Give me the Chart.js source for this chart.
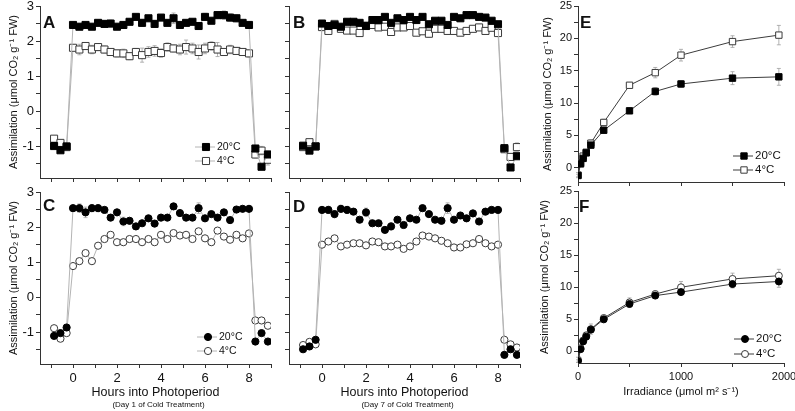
<!DOCTYPE html>
<html lang="en">
<head>
<meta charset="UTF-8">
<title>Assimilation panels</title>
<script src="https://cdn.jsdelivr.net/npm/chart.js"></script>
<style>
  body { margin: 0; background: #fff; }
  #wrap { position: relative; width: 795px; height: 411px; overflow: hidden; }
  canvas { position: absolute; }
</style>
</head>
<body>
<div id="wrap">
  <canvas id="cA"></canvas>
  <canvas id="cB"></canvas>
  <canvas id="cC"></canvas>
  <canvas id="cD"></canvas>
  <canvas id="cE"></canvas>
  <canvas id="cF"></canvas>
</div>
<script>
// hours into photoperiod (3 dark points, 29 light points, 3 dark points)
const hours = [-0.86, -0.57, -0.29, 0, 0.29, 0.57, 0.86, 1.14, 1.43, 1.71, 2, 2.29, 2.57, 2.86, 3.14, 3.43, 3.71, 4, 4.29, 4.57, 4.86, 5.14, 5.43, 5.71, 6, 6.29, 6.57, 6.86, 7.14, 7.43, 7.71, 8, 8.29, 8.57, 8.86];

// panel A - day 1, squares
const a20 = [-0.99, -1.11, -1.0, 2.46, 2.41, 2.46, 2.41, 2.52, 2.49, 2.5, 2.41, 2.46, 2.55, 2.69, 2.52, 2.65, 2.49, 2.67, 2.52, 2.65, 2.46, 2.52, 2.55, 2.43, 2.69, 2.58, 2.74, 2.74, 2.67, 2.65, 2.52, 2.46, -1.06, -1.58, -1.23];
const a4 = [-0.78, -0.9, -1.02, 1.81, 1.76, 1.86, 1.76, 1.83, 1.76, 1.69, 1.65, 1.65, 1.57, 1.69, 1.6, 1.69, 1.72, 1.66, 1.83, 1.79, 1.76, 1.83, 1.79, 1.69, 1.79, 1.86, 1.76, 1.69, 1.76, 1.72, 1.69, 1.65, -1.23, -1.12, -1.38];
const a20err = [0.05, 0.05, 0.05, 0.05, 0.08, 0.05, 0.06, 0.08, 0.1, 0.1, 0.06, 0.08, 0.08, 0.06, 0.1, 0.06, 0.1, 0.06, 0.08, 0.15, 0.08, 0.08, 0.06, 0.08, 0.1, 0.06, 0.1, 0.12, 0.1, 0.1, 0.06, 0.08, 0.08, 0.06, 0.1];
const a4err = [0.06, 0.05, 0.05, 0.08, 0.15, 0.1, 0.12, 0.1, 0.1, 0.08, 0.1, 0.12, 0.1, 0.1, 0.2, 0.15, 0.15, 0.12, 0.12, 0.1, 0.15, 0.2, 0.15, 0.2, 0.15, 0.12, 0.2, 0.1, 0.12, 0.1, 0.1, 0.1, 0.1, 0.12, 0.15];

// panel B - day 7, squares
const b20 = [-0.98, -1.12, -1.0, 2.5, 2.43, 2.46, 2.41, 2.55, 2.55, 2.52, 2.43, 2.6, 2.6, 2.69, 2.52, 2.65, 2.6, 2.69, 2.6, 2.69, 2.48, 2.58, 2.58, 2.46, 2.69, 2.65, 2.74, 2.74, 2.69, 2.67, 2.58, 2.48, -1.05, -1.6, -1.28];
const b4 = [-1.02, -0.88, -1.0, 2.4, 2.29, 2.49, 2.35, 2.3, 2.3, 2.23, 2.44, 2.46, 2.39, 2.41, 2.26, 2.39, 2.39, 2.43, 2.24, 2.28, 2.21, 2.35, 2.35, 2.29, 2.29, 2.24, 2.29, 2.35, 2.39, 2.29, 2.38, 2.23, -1.08, -1.3, -1.02];
const b20err = [0.05, 0.05, 0.05, 0.05, 0.05, 0.05, 0.06, 0.08, 0.06, 0.05, 0.06, 0.06, 0.08, 0.06, 0.06, 0.06, 0.1, 0.06, 0.06, 0.06, 0.06, 0.06, 0.06, 0.06, 0.06, 0.06, 0.1, 0.08, 0.06, 0.06, 0.06, 0.06, 0.05, 0.05, 0.05];
const b4err = [0.05, 0.05, 0.05, 0.06, 0.06, 0.06, 0.06, 0.08, 0.06, 0.06, 0.06, 0.06, 0.08, 0.06, 0.1, 0.06, 0.06, 0.06, 0.08, 0.08, 0.1, 0.06, 0.06, 0.06, 0.06, 0.06, 0.06, 0.06, 0.06, 0.06, 0.06, 0.06, 0.08, 0.1, 0.12];

// panel C - day 1, circles
const c20 = [-1.1, -1.02, -0.86, 2.54, 2.54, 2.42, 2.54, 2.54, 2.49, 2.27, 2.42, 2.16, 2.18, 2.02, 2.11, 2.25, 2.1, 2.27, 2.27, 2.59, 2.4, 2.27, 2.27, 2.54, 2.25, 2.37, 2.27, 2.42, 2.2, 2.5, 2.52, 2.52, -1.26, -1.02, -1.26];
const c4 = [-0.88, -1.18, -1.02, 0.89, 1.03, 1.26, 1.03, 1.47, 1.66, 1.78, 1.57, 1.57, 1.66, 1.66, 1.57, 1.66, 1.57, 1.78, 1.66, 1.83, 1.76, 1.78, 1.66, 1.88, 1.68, 1.57, 1.9, 1.73, 1.64, 1.78, 1.68, 1.82, -0.66, -0.66, -0.81];
const c20err = [0.05, 0.05, 0.05, 0.08, 0.12, 0.15, 0.1, 0.1, 0.05, 0.08, 0.08, 0.12, 0.06, 0.06, 0.06, 0.06, 0.06, 0.06, 0.06, 0.06, 0.06, 0.06, 0.06, 0.15, 0.06, 0.06, 0.06, 0.06, 0.06, 0.06, 0.06, 0.06, 0.05, 0.05, 0.05];
const c4err = [0.05, 0.05, 0.05, 0.05, 0.05, 0.06, 0.05, 0.05, 0.05, 0.05, 0.05, 0.05, 0.05, 0.05, 0.05, 0.05, 0.05, 0.05, 0.05, 0.05, 0.05, 0.05, 0.05, 0.05, 0.05, 0.05, 0.05, 0.05, 0.05, 0.05, 0.05, 0.05, 0.08, 0.08, 0.08];

// panel D - day 7, circles
const d20 = [-1.48, -1.4, -1.21, 2.49, 2.49, 2.37, 2.52, 2.49, 2.44, 2.21, 2.42, 2.11, 2.11, 1.92, 2.02, 2.21, 2.06, 2.25, 2.21, 2.54, 2.37, 2.21, 2.18, 2.54, 2.21, 2.33, 2.25, 2.39, 2.16, 2.44, 2.49, 2.49, -1.64, -1.48, -1.64];
const d4 = [-1.36, -1.27, -1.34, 1.5, 1.59, 1.68, 1.45, 1.5, 1.54, 1.54, 1.48, 1.59, 1.57, 1.45, 1.45, 1.5, 1.38, 1.45, 1.59, 1.76, 1.73, 1.68, 1.61, 1.54, 1.42, 1.42, 1.51, 1.54, 1.66, 1.54, 1.45, 1.5, -1.21, -1.34, -1.43];
const d20err = [0.05, 0.05, 0.05, 0.06, 0.1, 0.1, 0.1, 0.1, 0.05, 0.06, 0.12, 0.06, 0.06, 0.06, 0.1, 0.06, 0.06, 0.06, 0.06, 0.06, 0.06, 0.06, 0.06, 0.15, 0.06, 0.06, 0.06, 0.06, 0.06, 0.06, 0.06, 0.06, 0.05, 0.05, 0.05];
const d4err = [0.05, 0.05, 0.05, 0.05, 0.05, 0.05, 0.05, 0.05, 0.05, 0.05, 0.05, 0.05, 0.05, 0.05, 0.08, 0.06, 0.05, 0.05, 0.05, 0.05, 0.05, 0.05, 0.05, 0.05, 0.05, 0.05, 0.05, 0.05, 0.05, 0.05, 0.05, 0.05, 0.06, 0.06, 0.06];

// panels E, F - light response
const irradiance = [0, 25, 50, 80, 125, 250, 500, 750, 1000, 1500, 1950];
const e20 = [-1.2, 0.6, 1.45, 2.3, 3.5, 5.8, 8.8, 11.8, 12.95, 13.85, 14.05];
const e4 = [-1.13, 0.77, 1.8, 2.4, 3.8, 7.0, 12.75, 14.7, 17.4, 19.5, 20.5];
const e20err = [0.2, 0.3, 0.3, 0.3, 0.4, 0.4, 0.4, 0.6, 0.5, 1.0, 1.3];
const e4err = [0.4, 0.3, 0.3, 0.4, 0.5, 0.5, 0.4, 0.8, 0.9, 0.9, 1.5];
const f20 = [-1.5, 0.36, 1.56, 2.3, 3.4, 5.0, 7.4, 8.7, 9.25, 10.5, 10.9];
const f4 = [-1.3, 0.52, 1.71, 2.5, 3.48, 5.2, 7.64, 8.94, 10.0, 11.3, 11.8];
const f20err = [0.2, 0.2, 0.3, 0.3, 0.4, 0.4, 0.5, 0.4, 0.4, 0.6, 0.9];
const f4err = [0.4, 0.3, 0.4, 0.5, 0.8, 0.5, 0.7, 0.5, 0.9, 0.9, 1.0];

// ticks
const hourTicks = [-1, 0, 1, 2, 3, 4, 5, 6, 7, 8, 9];
const hourLabels = [0, 2, 4, 6, 8];
const assimTicks = [-1.5, -1, -0.5, 0, 0.5, 1, 1.5, 2, 2.5, 3];
const assimLabels = [-1, 0, 1, 2, 3];
const irrTicks = [0, 500, 1000, 1500, 2000];
const irrLabels = [0, 1000, 2000];
const lightTicks = [0, 2.5, 5, 7.5, 10, 12.5, 15, 17.5, 20, 22.5, 25];
const lightLabels = [0, 5, 10, 15, 20, 25];

const seriesNames = ['20°C', '4°C'];
const yTitle = 'Assimilation (μmol CO₂ g⁻¹ FW)';
const FONT = '"Liberation Sans", Arial, sans-serif';

// draws error bars, panel letter, legend and the day note
const panelDeco = {
  id: 'panelDeco',
  beforeDatasetsDraw(chart) {
    const ctx = chart.ctx;
    const ys = chart.scales.y;
    ctx.save();
    ctx.strokeStyle = '#a0a0a0';
    ctx.lineWidth = 0.8;
    chart.data.datasets.forEach((ds, i) => {
      const meta = chart.getDatasetMeta(i);
      if (!ds.errors) return;
      meta.data.forEach((pt, j) => {
        const e = ds.errors[j];
        if (!e) return;
        const v = ds.data[j].y;
        const y1 = ys.getPixelForValue(v - e), y2 = ys.getPixelForValue(v + e);
        ctx.beginPath();
        ctx.moveTo(pt.x, y1); ctx.lineTo(pt.x, y2);
        ctx.moveTo(pt.x - 2, y1); ctx.lineTo(pt.x + 2, y1);
        ctx.moveTo(pt.x - 2, y2); ctx.lineTo(pt.x + 2, y2);
        ctx.stroke();
      });
    });
    ctx.restore();
  },
  afterDraw(chart, args, o) {
    const ctx = chart.ctx;
    const a = chart.chartArea;
    ctx.save();
    ctx.fillStyle = '#111';
    ctx.textBaseline = 'middle';
    ctx.textAlign = 'left';
    ctx.font = 'bold 17px ' + FONT;
    ctx.fillText(o.letter, a.left + o.letterDx, a.top + o.letterDy);

    if (o.legend) {
      const L = o.legend;
      chart.data.datasets.forEach((ds, i) => {
        const x = a.left + L.dx;
        const y = a.bottom + L.dy + i * L.rowH;
        ctx.strokeStyle = ds.borderColor;
        ctx.lineWidth = 1;
        ctx.beginPath();
        ctx.moveTo(x, y); ctx.lineTo(x + 20, y);
        ctx.stroke();
        ctx.fillStyle = ds.pointBackgroundColor;
        ctx.strokeStyle = ds.pointBorderColor;
        Chart.helpers.drawPoint(ctx, { pointStyle: ds.pointStyle, radius: ds.pointRadius, borderWidth: 1, rotation: 0 }, x + 11, y);
        ctx.fillStyle = '#111';
        ctx.font = L.size + 'px ' + FONT;
        ctx.fillText(ds.label, x + 22, y);
      });
    }

    if (o.note) {
      ctx.textAlign = 'center';
      ctx.font = '8px ' + FONT;
      ctx.fillText(o.note, (a.left + a.right) / 2 + 3, chart.height - 6);
    }
    ctx.restore();
  }
};

function series(xs, ys, errs, idx, style, lineColor, r) {
  return {
    label: seriesNames[idx],
    data: xs.map((x, i) => ({ x: x, y: ys[i] })),
    errors: errs,
    showLine: true,
    borderColor: lineColor,
    borderWidth: 1,
    pointStyle: style,
    pointRadius: r,
    pointBorderWidth: 1,
    pointBackgroundColor: idx === 0 ? '#000' : '#fff',
    pointBorderColor: idx === 0 ? '#000' : '#3a3a3a'
  };
}

function makePanel(p) {
  const cv = document.getElementById(p.id);
  const [bl, bt, bw, bh] = p.box;
  const [al, at, ar, ab] = p.area;
  cv.width = bw; cv.height = bh;
  cv.style.left = bl + 'px'; cv.style.top = bt + 'px';
  cv.style.width = bw + 'px'; cv.style.height = bh + 'px';

  const axisCommon = {
    grid: { drawOnChartArea: false, tickLength: 4, tickColor: '#333', tickWidth: 1 },
    border: { color: '#333', width: 1 }
  };

  new Chart(cv, {
    type: 'scatter',
    data: { datasets: p.datasets },
    options: {
      responsive: false,
      animation: false,
      events: [],
      layout: { padding: { left: 0, top: at - bt, right: (bl + bw) - ar, bottom: 0 } },
      plugins: { legend: { display: false }, tooltip: { enabled: false }, panelDeco: p.deco },
      scales: {
        x: Object.assign({}, axisCommon, {
          type: 'linear', min: p.xMin, max: p.xMax,
          afterBuildTicks: s => { s.ticks = p.xTicks.map(v => ({ value: v })); },
          afterFit: s => { s.height = (bt + bh) - ab; s.paddingLeft = 0; s.paddingRight = 0; },
          ticks: {
            autoSkip: false, maxRotation: 0, padding: 3, color: '#111',
            font: { family: FONT, size: p.xFont },
            callback: v => p.xLabels.includes(v) ? String(v) : ''
          },
          title: p.xTitle ? {
            display: true, text: p.xTitle, color: '#111',
            font: { family: FONT, size: p.xTitleSize },
            padding: { top: 0, bottom: p.xTitlePad }
          } : { display: false }
        }),
        y: Object.assign({}, axisCommon, {
          type: 'linear', min: p.yMin, max: p.yMax,
          afterBuildTicks: s => { s.ticks = p.yTicks.map(v => ({ value: v })); },
          afterFit: s => { s.width = al - bl; s.paddingTop = 0; s.paddingBottom = 0; },
          ticks: {
            autoSkip: false, padding: 2, color: '#111',
            font: { family: FONT, size: p.yFont },
            callback: v => p.yLabels.includes(v) ? String(v) : ''
          },
          title: p.showYTitle ? {
            display: true, text: yTitle, color: '#111',
            font: { family: FONT, size: 11 },
            padding: { top: p.yTitlePad, bottom: 0 }
          } : { display: false }
        })
      }
    },
    plugins: [panelDeco]
  });
}

const grayLine = '#b4b4b4';
const darkLine = '#3c3c3c';

makePanel({
  id: 'cA', box: [0, 0, 280, 190], area: [40, 6, 271, 178],
  xMin: -1.5, xMax: 9, xTicks: hourTicks, xLabels: [], xFont: 13,
  yMin: -1.9, yMax: 3, yTicks: assimTicks, yLabels: assimLabels, yFont: 13,
  showYTitle: true, yTitlePad: 7,
  datasets: [series(hours, a20, a20err, 0, 'rect', grayLine, 5), series(hours, a4, a4err, 1, 'rect', grayLine, 5)],
  deco: { letter: 'A', letterDx: 3, letterDy: 17, legend: { dx: 155, dy: -31, rowH: 14, size: 10.5 } }
});
makePanel({
  id: 'cB', box: [280, 0, 250, 190], area: [289, 6, 520, 178],
  xMin: -1.5, xMax: 9, xTicks: hourTicks, xLabels: [], xFont: 13,
  yMin: -1.9, yMax: 3, yTicks: assimTicks, yLabels: [], yFont: 13,
  showYTitle: false,
  datasets: [series(hours, b20, b20err, 0, 'rect', grayLine, 5), series(hours, b4, b4err, 1, 'rect', grayLine, 5)],
  deco: { letter: 'B', letterDx: 4, letterDy: 17 }
});
makePanel({
  id: 'cC', box: [0, 180, 280, 231], area: [40, 192, 271, 364],
  xMin: -1.5, xMax: 9, xTicks: hourTicks, xLabels: hourLabels, xFont: 13,
  xTitle: 'Hours into Photoperiod', xTitleSize: 12.5, xTitlePad: 11,
  yMin: -1.9, yMax: 3, yTicks: assimTicks, yLabels: assimLabels, yFont: 13,
  showYTitle: true, yTitlePad: 7,
  datasets: [series(hours, c20, c20err, 0, 'circle', grayLine, 3.6), series(hours, c4, c4err, 1, 'circle', grayLine, 3.6)],
  deco: { letter: 'C', letterDx: 3, letterDy: 14, legend: { dx: 157, dy: -27, rowH: 14, size: 10.5 }, note: '(Day 1 of Cold Treatment)' }
});
makePanel({
  id: 'cD', box: [280, 180, 250, 231], area: [289, 192, 520, 364],
  xMin: -1.5, xMax: 9, xTicks: hourTicks, xLabels: hourLabels, xFont: 13,
  xTitle: 'Hours into Photoperiod', xTitleSize: 12.5, xTitlePad: 11,
  yMin: -1.9, yMax: 3, yTicks: assimTicks, yLabels: [], yFont: 13,
  showYTitle: false,
  datasets: [series(hours, d20, d20err, 0, 'circle', grayLine, 3.6), series(hours, d4, d4err, 1, 'circle', grayLine, 3.6)],
  deco: { letter: 'D', letterDx: 4, letterDy: 15, note: '(Day 7 of Cold Treatment)' }
});
makePanel({
  id: 'cE', box: [530, 0, 265, 195], area: [578, 6, 784, 182],
  xMin: 0, xMax: 2000, xTicks: irrTicks, xLabels: [], xFont: 11,
  yMin: -2.2, yMax: 25, yTicks: lightTicks, yLabels: lightLabels, yFont: 11,
  showYTitle: true, yTitlePad: 11,
  datasets: [series(irradiance, e20, e20err, 0, 'rect', darkLine, 4.5), series(irradiance, e4, e4err, 1, 'rect', darkLine, 4.5)],
  deco: { letter: 'E', letterDx: 2, letterDy: 17, legend: { dx: 155, dy: -26, rowH: 14, size: 11.5 } }
});
makePanel({
  id: 'cF', box: [530, 180, 265, 231], area: [578, 191, 784, 363],
  xMin: 0, xMax: 2000, xTicks: irrTicks, xLabels: irrLabels, xFont: 11,
  xTitle: 'Irradiance (μmol m² s⁻¹)', xTitleSize: 11, xTitlePad: 12,
  yMin: -1.8, yMax: 25, yTicks: lightTicks, yLabels: lightLabels, yFont: 11,
  showYTitle: true, yTitlePad: 8,
  datasets: [series(irradiance, f20, f20err, 0, 'circle', darkLine, 3.5), series(irradiance, f4, f4err, 1, 'circle', darkLine, 3.5)],
  deco: { letter: 'F', letterDx: 1, letterDy: 16, legend: { dx: 156, dy: -24, rowH: 15, size: 11.5 } }
});
</script>
</body>
</html>
